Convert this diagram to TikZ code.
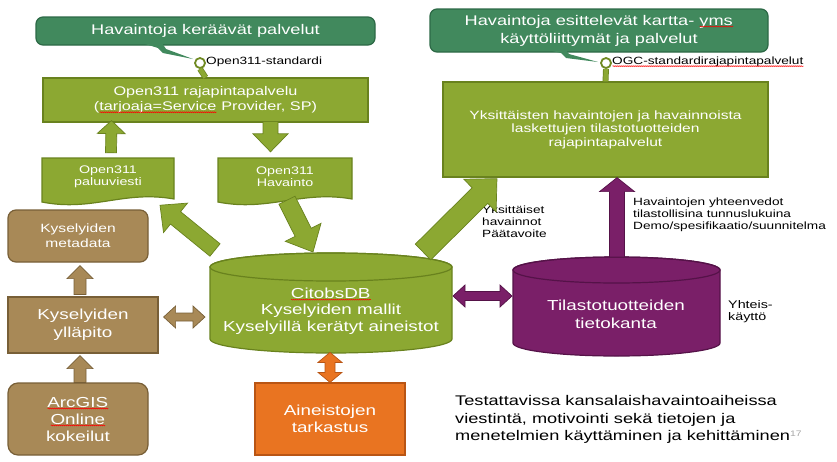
\documentclass[tikz,border=0pt]{standalone}
\usepackage{fontspec}
\setmainfont{Liberation Sans}[FakeStretch=1.3]
\usetikzlibrary{calc,decorations.pathmorphing}
\definecolor{cGreen}{RGB}{65,137,93}
\definecolor{cGreenD}{RGB}{45,105,70}
\definecolor{cOlive}{RGB}{140,168,50}
\definecolor{cOliveD}{RGB}{105,130,30}
\definecolor{cBrown}{RGB}{168,137,87}
\definecolor{cBrownD}{RGB}{120,95,55}
\definecolor{cOrange}{RGB}{233,116,33}
\definecolor{cOrangeD}{RGB}{185,85,20}
\definecolor{cPurple}{RGB}{122,31,104}
\definecolor{cPurpleD}{RGB}{85,18,72}
\newcommand\fsz[2]{\fontsize{#1}{#2}\selectfont}
\newlength\spellw
\newsavebox\spellbox
\newcommand\spell[1]{\sbox\spellbox{#1}\setlength\spellw{\wd\spellbox}\leavevmode\rlap{\usebox\spellbox}\raisebox{-2.2pt}{\tikz\draw[sharp corners,red,line width=0.5pt,decorate,decoration={snake,amplitude=0.5pt,segment length=2pt}] (0pt,0pt) -- (\spellw,0pt);}}
% block arrow: style, from, to, half shaft, half head, head length
\newcommand\blockarrow[6]{%
  \path[#1] let \p1=(#2), \p2=(#3), \n1={veclen(\x2-\x1,\y2-\y1)}, \n2={atan2(\y2-\y1,\x2-\x1)} in
    [shift={(\p1)}, rotate=\n2]
    (0,#4) -- ({\n1-#6},#4) -- ({\n1-#6},#5) -- (\n1,0) -- ({\n1-#6},-#5) -- ({\n1-#6},-#4) -- (0,-#4) -- cycle;}
\newcommand\dblarrow[6]{%
  \path[#1] let \p1=(#2), \p2=(#3), \n1={veclen(\x2-\x1,\y2-\y1)}, \n2={atan2(\y2-\y1,\x2-\x1)} in
    [shift={(\p1)}, rotate=\n2]
    (0,0) -- (#6,#5) -- (#6,#4) -- ({\n1-#6},#4) -- ({\n1-#6},#5) -- (\n1,0) -- ({\n1-#6},-#5) -- ({\n1-#6},-#4) -- (#6,-#4) -- (#6,-#5) -- cycle;}
\tikzset{
  callout/.style={draw=cGreenD, fill=cGreen, line width=1.2pt, rounded corners=7pt, text=white, align=center, inner sep=0pt},
  olivebox/.style={draw=cOliveD, fill=cOlive, line width=1.2pt, text=white, align=center, inner sep=0pt},
  brownbox/.style={draw=cBrownD, fill=cBrown, line width=1.2pt, text=white, align=center, inner sep=0pt},
  orangebox/.style={draw=cOrangeD, fill=cOrange, line width=1.2pt, text=white, align=center, inner sep=0pt},
  textonly/.style={inner sep=0pt, align=center, text=white},
  lbl/.style={inner sep=0pt, align=left, text=black, font=\fsz{10.5}{12}},
  socket/.style={circle, draw=cOliveD!80!cOlive, line width=1.8pt, fill=white, minimum size=10pt, inner sep=0pt},
  stem/.style={draw=cOliveD, double=cOlive, double distance=4.5pt, line width=0.7pt},
  olivearr/.style={fill=cOlive, draw=cOliveD, line width=0.7pt},
  brownarr/.style={fill=cBrown, draw=cBrownD, line width=0.7pt},
  orangearr/.style={fill=cOrange, draw=cOrangeD, line width=0.7pt},
  purplearr/.style={fill=cPurple, draw=cPurpleD, line width=0.7pt},
  docshape/.style={fill=cOlive, draw=cOliveD, line width=1.2pt},
  cyl/.style={line width=1.2pt},
}
\begin{document}
\begin{tikzpicture}[x=1pt,y=-1pt]
\useasboundingbox (0,0) rectangle (837,461);

% ---------- top-left callout ----------
\node[callout, minimum width=339pt, minimum height=28pt, font=\fsz{14}{17}] (c1) at (205.5,31) {Havaintoja keräävät palvelut};
\fill[cGreen] (142,43) -- (162,43) -- (166,49) -- (193,59) -- (163,53) -- (158,48) -- cycle;
\node[socket] (s1) at (200,63) {};
\node[lbl, anchor=west] (s1l) at (206,62) {Open311-standardi};

\node[olivebox, minimum width=325pt, minimum height=44pt, font=\fsz{12.5}{15}] (o311) at (205.5,100) {Open311 rajapintapalvelu\\(\spell{tarjoaja=Service} Provider, SP)};
\draw[stem] (s1.south) -- (o311.north);

% ---------- top-right callout ----------
\node[callout, minimum width=338pt, minimum height=43pt, font=\fsz{14}{18}] (c2) at (599,30.5) {Havaintoja esittelevät kartta- \spell{yms}\\käyttöliittymät ja palvelut};
\fill[cGreen] (548,50) -- (566,50) -- (569,54) -- (598,62) -- (566,58) -- (561,53) -- cycle;
\node[socket] (s2) at (606,63) {};
\node[lbl, anchor=west] (s2l) at (612,62) {\spell{OGC-standardirajapintapalvelut}};

\node[olivebox, minimum width=325pt, minimum height=95pt, font=\fsz{12}{13.5}] (api) at (605.5,129.5) {Yksittäisten havaintojen ja havainnoista\\laskettujen tilastotuotteiden\\rajapintapalvelut};
\draw[stem] (s2.south) -- (api.north);

% ---------- documents ----------
\draw[docshape] (42,158) -- (174,158) -- (174,199) .. controls (124,190) and (92,212) .. (42,202) -- cycle;
\node[textonly, minimum width=132pt, minimum height=40pt, font=\fsz{11}{12}] (pal) at (108,177) {Open311\\paluuviesti};
\draw[docshape] (218,158) -- (352,158) -- (352,199) .. controls (302,190) and (268,212) .. (218,202) -- cycle;
\node[textonly, minimum width=134pt, minimum height=40pt, font=\fsz{11}{12}] (hav) at (285,177) {Open311\\Havainto};

% ---------- brown boxes ----------
\node[brownbox, rounded corners=8pt, minimum width=140pt, minimum height=52pt, font=\fsz{12}{15}] (meta) at (78,236) {Kyselyiden\\metadata};
\node[brownbox, minimum width=150pt, minimum height=56pt, font=\fsz{14.5}{18}] (yp) at (83,325) {Kyselyiden\\ylläpito};
\node[brownbox, rounded corners=10pt, minimum width=140pt, minimum height=72pt, font=\fsz{14.5}{17}] (arc) at (78,419) {\spell{ArcGIS}\\\spell{Online}\\kokeilut};

% ---------- orange box ----------
\node[orangebox, minimum width=150pt, minimum height=72pt, font=\fsz{14.5}{17.5}] (tark) at (330,419) {Aineistojen\\tarkastus};

% ---------- CitobsDB cylinder ----------
\coordinate (dbtop) at (331,253);
\coordinate (dbL) at (210,303);
\coordinate (dbR) at (452,303);
\path[cyl, fill=cOlive, draw=cOliveD] (210,267) -- (210,339) arc[start angle=180, end angle=0, x radius=121, y radius=14] -- (452,267) arc[start angle=0, end angle=-180, x radius=121, y radius=14] -- cycle;
\draw[cyl, cOliveD] (331,267) ellipse[x radius=121, y radius=14];
\node[textonly, font=\fsz{14.5}{16.5}] (db) at (331,311) {\spell{CitobsDB}\\Kyselyiden mallit\\Kyselyillä kerätyt aineistot};

% ---------- purple cylinder ----------
\coordinate (stattop) at (616.5,257);
\coordinate (statL) at (513,306);
\path[cyl, fill=cPurple, draw=cPurpleD] (513,270) -- (513,343) arc[start angle=180, end angle=0, x radius=103.5, y radius=13] -- (720,270) arc[start angle=0, end angle=-180, x radius=103.5, y radius=13] -- cycle;
\draw[cyl, cPurpleD] (616.5,270) ellipse[x radius=103.5, y radius=13];
\node[textonly, font=\fsz{14.5}{18}] (stat) at (616,314) {Tilastotuotteiden\\tietokanta};

% ---------- labels ----------
\node[lbl, anchor=west] (yks) at (482,222) {Yksittäiset\\havainnot\\Päätavoite};
\node[lbl, anchor=west] (yht) at (633,215) {Havaintojen yhteenvedot\\tilastollisina tunnuslukuina\\Demo/spesifikaatio/suunnitelma};
\node[lbl, anchor=west, font=\fsz{11}{12}] (yk) at (728,312) {Yhteis-\\käyttö};
\node[inner sep=0pt, align=left, anchor=west, font=\fsz{14}{17.5}] (note) at (455,419.5) {Testattavissa kansalaishavaintoaiheissa\\viestintä, motivointi sekä tietojen ja\\menetelmien käyttäminen ja kehittäminen{\color{black!35}\fsz{8}{8}\raisebox{4pt}{17}}};

% ---------- arrows ----------
\blockarrow{olivearr}{$(pal.north)+(3,-4)$}{$(o311.south)+(-94,-2)$}{5.5}{14}{13}
\blockarrow{olivearr}{$(o311.south)+(65,-1)$}{$(hav.north)+(-14.5,-5)$}{7.5}{17.5}{18}
\blockarrow{olivearr}{$(dbtop)+(-116,-3)$}{$(pal.south)+(52,8)$}{8}{19}{20}
\blockarrow{olivearr}{$(hav.south)+(2,3)$}{$(dbtop)+(-18,-1)$}{9}{20}{22}
\blockarrow{olivearr}{$(dbtop)+(92,-1)$}{$(api.south)+(-108.5,1)$}{11}{23}{24}
\blockarrow{purplearr}{$(stattop)+(0.5,0)$}{$(api.south)+(11.5,0)$}{7.5}{17.5}{14}
\blockarrow{brownarr}{$(yp.north)+(-3,-2)$}{$(meta.south)+(2,3)$}{6}{13}{13}
\blockarrow{brownarr}{$(arc.north)+(2,0)$}{$(yp.south)+(-3,2)$}{6}{13}{13}
\dblarrow{brownarr}{$(yp.east)+(5,-8)$}{$(dbL)+(-5,14)$}{4}{11}{12}
\dblarrow{orangearr}{$(tark.north)+(0,-30)$}{$(tark.north)+(0,0)$}{5}{12}{10}
\dblarrow{purplearr}{$(dbR)+(1,-7)$}{$(statL)+(-1,-10)$}{4.5}{11}{12}
\end{tikzpicture}
\end{document}
